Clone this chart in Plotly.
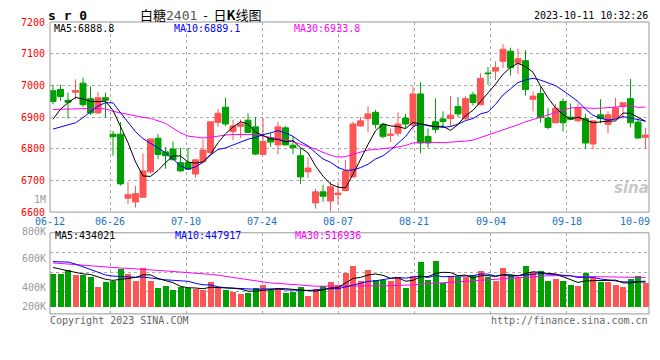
import plotly.graph_objects as go
import pandas as pd

# ---------------- data ----------------
dates = ["06-12", "06-13", "06-14", "06-15", "06-16", "06-19", "06-20", "06-21",
         "06-26", "06-27", "06-28", "06-29", "06-30",
         "07-03", "07-04", "07-05", "07-06", "07-07", "07-10", "07-11", "07-12", "07-13", "07-14",
         "07-17", "07-18", "07-19", "07-20", "07-21", "07-24", "07-25", "07-26", "07-27", "07-28", "07-31",
         "08-01", "08-02", "08-03", "08-04", "08-07", "08-08", "08-09", "08-10", "08-11",
         "08-14", "08-15", "08-16", "08-17", "08-18", "08-21", "08-22", "08-23", "08-24", "08-25",
         "08-28", "08-29", "08-30", "08-31", "09-01", "09-04", "09-05", "09-06", "09-07", "09-08",
         "09-11", "09-12", "09-13", "09-14", "09-15", "09-18", "09-19", "09-20", "09-21", "09-22",
         "09-25", "09-26", "09-27", "09-28", "10-09", "10-10", "10-11"]

opens = [6983, 6987, 6953, 6978, 7007, 6958, 6913, 6961, 6846, 6846, 6644, 6632, 6647,
         6727, 6833, 6790, 6799, 6756, 6756, 6720, 6760, 6788, 6883, 6931, 6854, 6871, 6890, 6869,
         6782, 6834, 6812, 6866, 6811, 6778, 6727, 6629, 6664, 6635, 6655, 6668, 6711, 6872, 6895,
         6915, 6877, 6842, 6849, 6897, 6875, 6973, 6839, 6885, 6894, 6895, 6933, 6895, 6970, 6939,
         7039, 7045, 7076, 7108, 7070, 7078, 6956, 6974, 6897, 6882, 6949, 6900, 6888, 6895, 6815,
         6907, 6877, 6894, 6935, 6958, 6884, 6836]
highs = [7002, 7002, 6977, 7019, 7024, 6997, 6980, 6977, 6856, 6884, 6696, 6682, 6785,
         6831, 6846, 6805, 6823, 6803, 6803, 6765, 6829, 6885, 6926, 6961, 6892, 6892, 6912, 6900,
         6897, 6849, 6885, 6871, 6839, 6803, 6773, 6673, 6686, 6696, 6696, 6765, 6885, 6900, 6934,
         6922, 6882, 6864, 6915, 6910, 6997, 7010, 6864, 6959, 6918, 6966, 6963, 6966, 6980, 7038,
         7058, 7076, 7130, 7119, 7116, 7111, 6980, 6995, 6929, 6941, 6959, 6943, 6943, 6910, 6888,
         6956, 6918, 6961, 6945, 7020, 6895, 6866]
lows = [6940, 6951, 6895, 6956, 6931, 6907, 6910, 6898, 6778, 6684, 6625, 6614, 6645,
        6721, 6767, 6737, 6765, 6727, 6735, 6708, 6757, 6788, 6869, 6872, 6827, 6834, 6851, 6780,
        6782, 6806, 6782, 6812, 6783, 6688, 6708, 6611, 6632, 6602, 6625, 6666, 6709, 6870, 6852,
        6864, 6833, 6821, 6839, 6866, 6860, 6786, 6803, 6849, 6866, 6869, 6900, 6890, 6936, 6937,
        7002, 7017, 7055, 7031, 7035, 6968, 6918, 6882, 6861, 6880, 6854, 6890, 6885, 6800, 6798,
        6880, 6849, 6894, 6895, 6867, 6831, 6800]
closes = [6949, 6965, 6947, 6984, 6939, 6913, 6961, 6953, 6838, 6689, 6655, 6658, 6730,
          6831, 6782, 6778, 6765, 6730, 6735, 6765, 6796, 6885, 6912, 6878, 6872, 6878, 6851, 6783,
          6823, 6821, 6869, 6812, 6803, 6711, 6739, 6664, 6650, 6680, 6660, 6730, 6878, 6888, 6910,
          6877, 6839, 6846, 6878, 6878, 6973, 6818, 6818, 6861, 6886, 6906, 6910, 6958, 6946, 7022,
          7037, 7056, 7114, 7056, 7084, 6987, 6966, 6898, 6867, 6928, 6882, 6893, 6929, 6818, 6888,
          6895, 6907, 6929, 6945, 6882, 6834, 6843]
volumes = [571000, 571000, 639000, 554000, 559000, 520000, 351000, 436000, 463000, 656000,
           571000, 453000, 673000, 453000, 334000, 368000, 300000, 351000, 334000, 310000,
           300000, 436000, 339000, 300000, 266000, 232000, 249000, 334000, 385000, 300000,
           334000, 249000, 266000, 351000, 198000, 317000, 368000, 436000, 378000, 588000,
           724000, 463000, 639000, 470000, 470000, 463000, 520000, 334000, 537000, 792000,
           470000, 809000, 419000, 520000, 520000, 520000, 554000, 622000, 520000, 453000,
           673000, 554000, 520000, 724000, 605000, 622000, 453000, 486000, 453000, 385000,
           368000, 588000, 503000, 436000, 436000, 385000, 351000, 486000, 537000, 419000]

# moving-average values before enough history exists inside the window
ma5_lead = [6893, 6925, 6945, 6962]
ma10_lead = [6862, 6868, 6875, 6882, 6898, 6918, 6935, 6945, 6945]
ma30_lead = [6924, 6925, 6925, 6926, 6927, 6927, 6927, 6926, 6918, 6913, 6907, 6903, 6899,
             6896, 6888, 6880, 6865, 6850, 6840, 6836, 6834, 6836, 6840, 6843, 6845, 6845,
             6846, 6845, 6840]
vma5_lead = [690000, 656000, 633000, 605000]
vma10_lead = [792000, 792000, 785000, 750000, 700000, 650000, 600000, 560000, 540000]
vma30_lead = [770000, 760000, 746000, 738000, 729000, 712000, 707000, 695000, 688000, 680000,
              675000, 668000, 661000, 655000, 640000, 630000, 620000, 612000, 605000, 595000,
              580000, 570000, 555000, 535000, 515000, 495000, 470000, 450000, 430000]

NB = "\u00a0"
title_text = ("白糖<span style='color:#555555;font-family:DejaVu Sans Mono'>2401</span>"
              + NB * 2 + "-" + NB * 2 + "日<b>K</b>线图")
code_text = "s r 0"
stamp_text = "2023-10-11 10:32:26"
price_legend = ["MA5:6888.8", "MA10:6889.1", "MA30:6933.8"]
vol_legend = ["MA5:434021", "MA10:447917", "MA30:516936"]
vol_axis_labels = ["1M", "800K", "600K", "400K", "200K"]
price_ticks = [6600, 6700, 6800, 6900, 7000, 7100, 7200]
label_dates = [0, 8, 18, 28, 38, 48, 58, 68, 77]   # candle indices whose date is printed

# ---------------- derived series ----------------
def moving(values, n, lead):
    s = pd.Series(values, dtype=float).rolling(n).mean()
    s.iloc[:len(lead)] = lead
    return s.tolist()

ma5 = moving(closes, 5, ma5_lead)
ma10 = moving(closes, 10, ma10_lead)
ma30 = moving(closes, 30, ma30_lead)
vma5 = moving(volumes, 5, vma5_lead)
vma10 = moving(volumes, 10, vma10_lead)
vma30 = moving(volumes, 30, vma30_lead)

# ---------------- styling / layout geometry ----------------
W, H = 660, 360
RED, GREEN = "#FF5555", "#00A000"
MONO = "DejaVu Sans Mono, Liberation Mono, monospace"
CJK = "Noto Sans CJK SC, sans-serif"
FS = 10

def fx(px):
    return px / W

def fy(py):
    return 1 - py / H

X0, X1 = 50, 649
MAIN_T, MAIN_B = 17.5, 213
VOL_T, VOL_B = 234.3, 317.7
SLOT = 7.5           # px per trading day
FIRST_C = 53         # px centre of first candle
x_range = [(X0 - FIRST_C) / SLOT, (X1 - FIRST_C) / SLOT]
grid_px = [110, 186.1, 262.2, 338.3, 414.4, 490.5, 566.6]
grid_pos = [(p - FIRST_C) / SLOT for p in grid_px]
label_px = [50] + grid_px + [634.5]

VOL_PER_PX = 16950
VOL_BASE = 310.7
vol_range = [-(VOL_B - VOL_BASE) * VOL_PER_PX, (VOL_BASE - VOL_T) * VOL_PER_PX]
vol_grid = [(VOL_BASE - p) * VOL_PER_PX for p in (295, 275, 255)]

x = list(range(len(dates)))

fig = go.Figure()
fig.add_trace(go.Candlestick(
    x=x, open=opens, high=highs, low=lows, close=closes,
    increasing=dict(line=dict(color=RED, width=1), fillcolor=RED),
    decreasing=dict(line=dict(color=GREEN, width=1), fillcolor=GREEN),
    whiskerwidth=0, showlegend=False, hoverinfo="skip", xaxis="x", yaxis="y"))
for series, col in ((ma30, "#FF00FF"), (ma10, "#0000FF"), (ma5, "#000000")):
    fig.add_trace(go.Scatter(x=x, y=series, mode="lines", line=dict(color=col, width=1),
                             showlegend=False, hoverinfo="skip", xaxis="x", yaxis="y"))

bar_colors = [RED if c >= o else GREEN for o, c in zip(opens, closes)]
fig.add_trace(go.Bar(x=x, y=volumes, marker=dict(color=bar_colors, line=dict(width=0)),
                     width=0.8, showlegend=False, hoverinfo="skip", xaxis="x2", yaxis="y2"))
for series, col in ((vma30, "#FF00FF"), (vma10, "#0000FF"), (vma5, "#000000")):
    fig.add_trace(go.Scatter(x=x, y=series, mode="lines", line=dict(color=col, width=1),
                             showlegend=False, hoverinfo="skip", xaxis="x2", yaxis="y2"))

grid_style = dict(showgrid=True, gridcolor="#AAAAAA", griddash="dot", gridwidth=1,
                  zeroline=False, showline=False, fixedrange=True)

fig.update_layout(
    width=W, height=H, autosize=False,
    margin=dict(l=0, r=0, t=0, b=0),
    paper_bgcolor="white", plot_bgcolor="white",
    boxgap=0.2, boxgroupgap=0, bargap=0,
    xaxis=dict(domain=[fx(X0), fx(X1)], range=x_range, tickvals=grid_pos,
               showticklabels=False, ticks="", rangeslider=dict(visible=False),
               anchor="y", **grid_style),
    yaxis=dict(domain=[fy(MAIN_B), fy(MAIN_T)], range=[6600, 7200], tickvals=price_ticks,
               ticks="", ticklabelstandoff=4,
               tickfont=dict(family=MONO, size=FS, color="#FF0000"),
               anchor="x", **grid_style),
    xaxis2=dict(domain=[fx(X0), fx(X1)], range=x_range, tickvals=grid_pos,
                showticklabels=False, ticks="", anchor="y2", **grid_style),
    yaxis2=dict(domain=[fy(VOL_B), fy(VOL_T)], range=vol_range, tickvals=vol_grid,
                showticklabels=False, ticks="", anchor="x2", **grid_style),
)

shapes = []
for top, bot in ((MAIN_T, MAIN_B), (VOL_T, VOL_B)):
    shapes.append(dict(type="rect", xref="paper", yref="paper",
                       x0=fx(X0), x1=fx(X1), y0=fy(bot), y1=fy(top),
                       line=dict(color="#999999", width=1), fillcolor="rgba(0,0,0,0)"))
fig.update_layout(shapes=shapes)

ann = []

def text(px, py, s, color="#000000", size=FS, family=MONO, xanchor="left", **kw):
    ann.append(dict(x=fx(px), y=fy(py), xref="paper", yref="paper", text=s, showarrow=False,
                    xanchor=xanchor, yanchor="middle", font=dict(family=family, size=size, color=color),
                    borderpad=0, **kw))

# header
text(47, 11, "<b>" + code_text + "</b>", size=13)
text(200, 10, title_text, size=13, family=CJK, xanchor="center")
text(649, 11, stamp_text, xanchor="right")

# legends inside panels
for s, px, col in zip(price_legend, (53, 173, 293), ("#000000", "#0000FF", "#FF00FF")):
    text(px, 24.5, s, color=col)
for s, px, col in zip(vol_legend, (54, 174, 294), ("#000000", "#0000FF", "#FF00FF")):
    text(px, 237.5, s, color=col)

# volume axis labels
for s, py in zip(vol_axis_labels, (200, 233, 260.5, 290.5, 310.5)):
    text(47, py, s, color="#999999", xanchor="right")

# date labels
for i, px in zip(label_dates, label_px):
    text(px, 222.5, dates[i], color="#1A73C8", xanchor="center")

# footer
text(49, 324.5, "Copyright 2023 SINA.COM", color="#666666")
text(649, 324.5, "http://finance.sina.com.cn", color="#666666", xanchor="right")

# watermark
text(631, 188, "<b><i>sina</i></b>", color="#C8C8C8", size=15,
     family="DejaVu Sans, sans-serif", xanchor="center")

fig.update_layout(annotations=ann)
fig.write_html("out.html", config={"displayModeBar": False, "staticPlot": True},
               post_script="document.body.style.margin='0';document.body.style.overflow='hidden';")
